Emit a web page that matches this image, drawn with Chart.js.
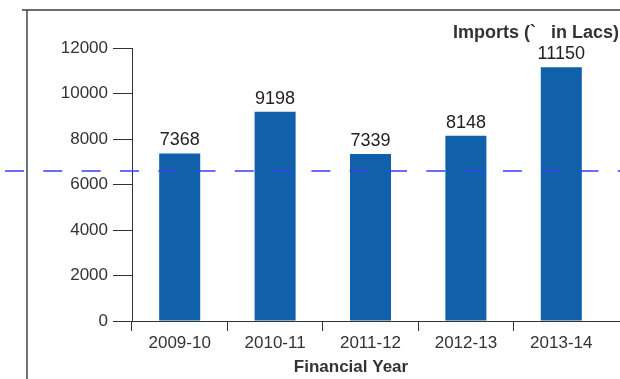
<!DOCTYPE html>
<html>
<head>
<meta charset="utf-8">
<script src="https://cdn.jsdelivr.net/npm/chart.js@4/dist/chart.umd.min.js"></script>
<style>
  html, body { margin: 0; padding: 0; background: #fff; }
  canvas { display: block; }
</style>
</head>
<body>
<canvas id="myChart" width="620" height="379"></canvas>
<script>
// Imports per financial year (in Lacs)
var years = ['2009-10', '2010-11', '2011-12', '2012-13', '2013-14'];
var imports = [7368, 9198, 7339, 8148, 11150];
var yTicks = [0, 2000, 4000, 6000, 8000, 10000, 12000];
var refLine = 6600; // dashed reference line

var FONT = "'Liberation Sans', Arial, sans-serif";
var TEXT = '#333333';

// frame, titles, reference line and value labels
var extras = {
    id: 'extras',
    beforeDraw: function (chart) {
        var c = chart.ctx;
        c.save();
        c.strokeStyle = '#6b6b6b';
        c.lineWidth = 2;
        c.beginPath();
        c.moveTo(22, 10);
        c.lineTo(620, 10);
        c.stroke();
        c.strokeStyle = '#444';
        c.lineWidth = 1.5;
        c.beginPath();
        c.moveTo(27, 10);
        c.lineTo(27, 379);
        c.stroke();
        c.restore();
    },
    afterDraw: function (chart) {
        var c = chart.ctx;
        var area = chart.chartArea;
        var y = chart.scales.y;
        c.save();
        // x axis line runs on to the right edge
        c.strokeStyle = '#333';
        c.lineWidth = 1;
        c.beginPath();
        c.moveTo(area.left - 12, Math.round(area.bottom) + 0.5);
        c.lineTo(620, Math.round(area.bottom) + 0.5);
        c.stroke();

        // titles
        c.fillStyle = TEXT;
        c.font = 'bold 18px ' + FONT;
        c.textAlign = 'right';
        c.textBaseline = 'middle';
        c.fillText('Imports (`   in Lacs)', 619, 33);
        c.font = 'bold 17px ' + FONT;
        c.textAlign = 'center';
        c.fillText('Financial Year', 351, 367);

        // value labels above bars
        c.font = '18px ' + FONT;
        c.fillStyle = '#222';
        c.textBaseline = 'alphabetic';
        chart.getDatasetMeta(0).data.forEach(function (bar, i) {
            c.fillText(String(imports[i]), bar.x, bar.y - 8);
        });

        // dashed reference line across the whole width
        var py = Math.round(y.getPixelForValue(refLine));
        c.strokeStyle = '#3c3cff';
        c.lineWidth = 1.6;
        c.setLineDash([19, 19.3]);
        c.beginPath();
        c.moveTo(5, py);
        c.lineTo(620, py);
        c.stroke();
        c.restore();
    }
};

var ctx = document.getElementById('myChart').getContext('2d');
var chart = new Chart(ctx, {
    type: 'bar',
    data: {
        labels: years,
        datasets: [{
            label: 'Imports',
            data: imports,
            backgroundColor: '#1060aa',
            borderWidth: 0,
            categoryPercentage: 1,
            barPercentage: 0.43
        }]
    },
    options: {
        responsive: false,
        animation: false,
        layout: { padding: { left: 30, top: 48, right: 11, bottom: 0 } },
        plugins: {
            legend: { display: false },
            tooltip: { enabled: false }
        },
        scales: {
            x: {
                afterFit: function (s) { s.height = 58; },
                grid: {
                    offset: true,
                    drawOnChartArea: false,
                    tickLength: 10,
                    color: function (c) { return c.tick ? '#333' : 'rgba(0,0,0,0)'; }
                },
                border: { display: false },
                ticks: { color: TEXT, font: { family: FONT, size: 17 }, padding: 2 }
            },
            y: {
                min: 0,
                max: 12000,
                afterFit: function (s) { s.width = 102; },
                afterBuildTicks: function (s) {
                    s.ticks = yTicks.map(function (v) { return { value: v }; });
                },
                grid: { drawOnChartArea: false, tickLength: 19, color: '#333' },
                border: { display: true, color: '#333' },
                ticks: {
                    color: TEXT,
                    font: { family: FONT, size: 17 },
                    padding: 5,
                    callback: function (v) { return String(v); }
                }
            }
        }
    },
    plugins: [extras]
});
</script>
</body>
</html>
